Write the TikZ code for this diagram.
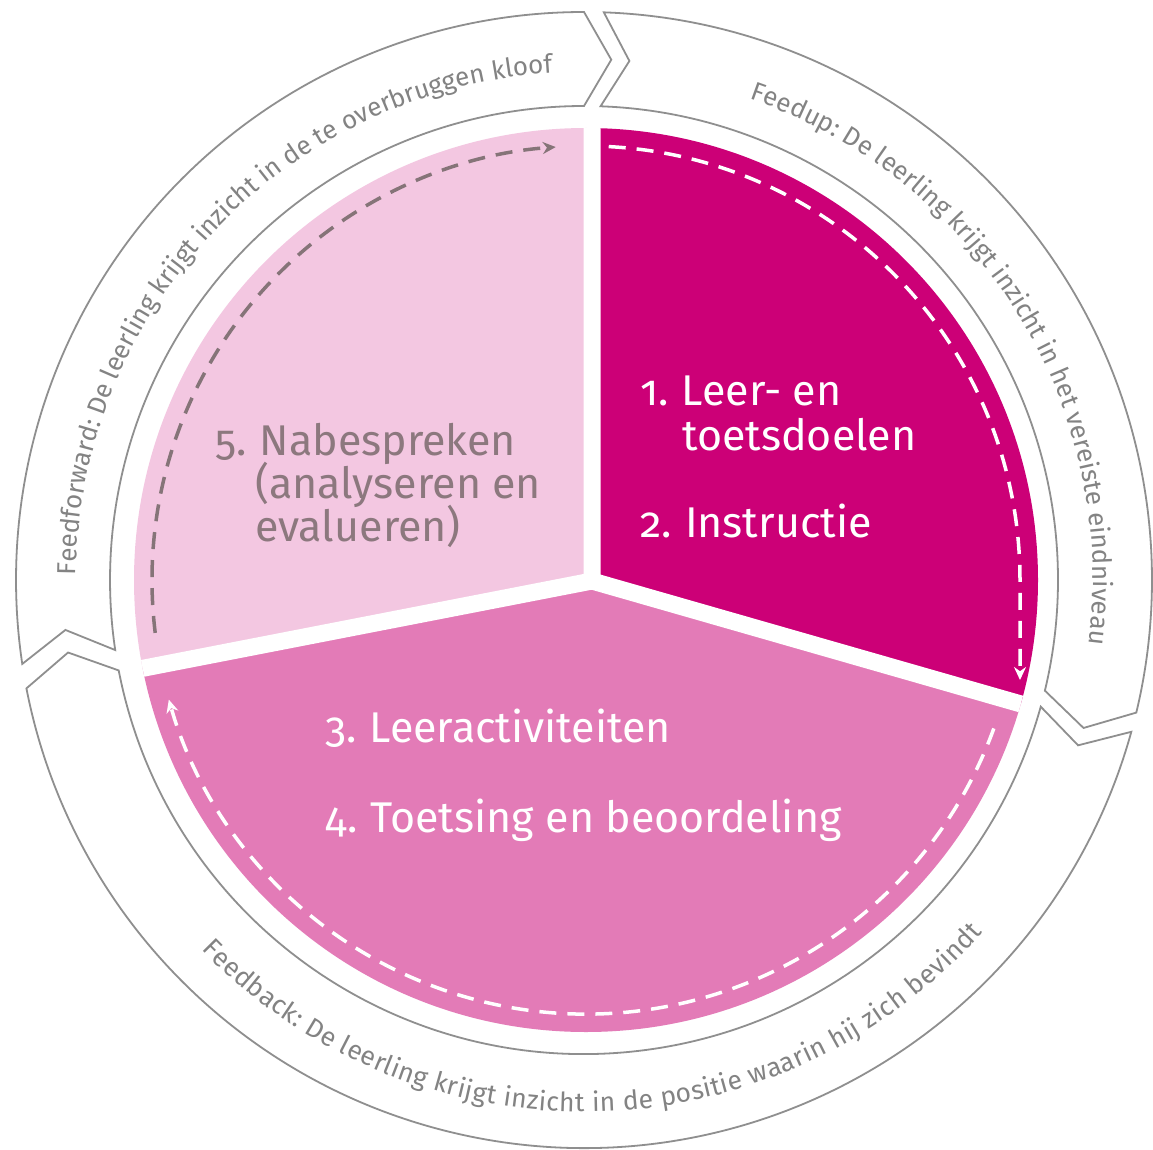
\documentclass[tikz,border=0pt]{standalone}
\usepackage{fontspec}
\setmainfont[Numbers=OldStyle]{Fira Sans}
\usetikzlibrary{decorations.text,arrows.meta}
\definecolor{cmag}{HTML}{CC0077}
\definecolor{cmid}{HTML}{E37BB7}
\definecolor{clight}{HTML}{F3C7E1}
\definecolor{ringline}{HTML}{8F8F8F}
\definecolor{ringtext}{HTML}{838383}
\definecolor{mauve}{HTML}{8C787E}
\definecolor{arrowgray}{HTML}{857478}
\newcommand\ringfont{\fontsize{26}{26}\selectfont}
\newcommand\ringfontb{\fontsize{26.5}{26.5}\selectfont}
\begin{document}
\begin{tikzpicture}[x=1pt,y=-1pt,
  seg/.style={fill=white,draw=ringline,line width=1.8pt,line join=miter},
  lbl/.style={inner sep=0pt,anchor=base west,font=\fontsize{43}{45}\selectfont},
  dasharc/.style={line width=3.5pt,dash pattern=on 17pt off 11pt,-{Stealth[length=13pt,width=12pt]}},
  gap/.style={white,line width=17pt,line cap=round},
  ringlbl/.style={decorate,decoration={text along path,text color=ringtext,text align=left}}]
\useasboundingbox (0,0) rectangle (1153,1150);
\fill[white] (0,0) rectangle (1153,1150);
\coordinate (R) at (584,580);
\coordinate (P) at (586,580);
\coordinate (J) at (592,581);

% ring segments
\begin{scope}[shift={(584,580)}]
  \draw[seg] (171.5:568) arc[start angle=171.5,end angle=270,radius=568] -- (273:521) -- (270:474) arc[start angle=270,end angle=171.5,radius=474] -- (174.5:521) -- cycle;
  \draw[seg] (272:568) arc[start angle=272,end angle=373.5,radius=568] -- (376.5:521) -- (373.5:474) arc[start angle=373.5,end angle=272,radius=474] -- (275:521) -- cycle;
  \draw[seg] (375.5:568) arc[start angle=375.5,end angle=529,radius=568] -- (532:521) -- (529:474) arc[start angle=529,end angle=375.5,radius=474] -- (378.5:521) -- cycle;
  \path[ringlbl,decoration={text={|\ringfont|Feedforward: De leerling krijgt inzicht in de te overbruggen kloof}}]
    (180.5:508) arc[start angle=180.5,end angle=275,radius=508];
  \path[ringlbl,decoration={text={|\ringfont|Feedup: De leerling krijgt inzicht in het vereiste eindniveau}}]
    (-71:509) arc[start angle=-71,end angle=20,radius=509];
  \path[ringlbl,decoration={text align=fit to path,text={|\ringfontb|Feedback: De leerling krijgt inzicht in de positie waarin hij zich bevindt}}]
    (136:532) arc[start angle=136,end angle=41.5,radius=532];
\end{scope}

% pie
\begin{scope}
  \clip (P) circle[radius=452];
  \begin{scope}[shift={(592,581)}]
    \fill[cmag] (0,0) -- (-90:1500) -- (-37:1500) -- (16:1500) -- cycle;
    \fill[cmid] (0,0) -- (16:1500) -- (92.5:1500) -- (169:1500) -- cycle;
    \fill[clight] (0,0) -- (169:1500) -- (219.5:1500) -- (270:1500) -- cycle;
    \draw[gap] (0,0) -- (-90:520) (0,0) -- (16:520) (0,0) -- (169:520);
  \end{scope}
\end{scope}

% dashed arrows
\begin{scope}[shift={(586,580)}]
  \draw[dasharc,arrowgray] (173:434) arc[start angle=173,end angle=266,radius=434];
  \draw[dasharc,white] (-87:434) arc[start angle=-87,end angle=0,radius=434] -- ++(0,100);
  \draw[dasharc,white] (20:434) arc[start angle=20,end angle=164,radius=434];
\end{scope}

% labels
\node[lbl,white] (l1) at (640,405) {1.\kern-2pt{} Leer- en};
\node[lbl,white] (l1b) at (682,450) {toetsdoelen};
\node[lbl,white] (l2) at (640,537) {2.\kern-2pt{} Instructie};
\node[lbl,mauve] (l5) at (215,455) {5.\kern-2pt{} Nabespreken};
\node[lbl,mauve] (l5b) at (255,498) {(analyseren en};
\node[lbl,mauve] (l5c) at (255,541) {evalueren)};
\node[lbl,white] (l3) at (325,742) {3.\kern-2pt{} Leeractiviteiten};
\node[lbl,white] (l4) at (325,832) {4.\kern-2pt{} Toetsing en beoordeling};
\end{tikzpicture}
\end{document}
